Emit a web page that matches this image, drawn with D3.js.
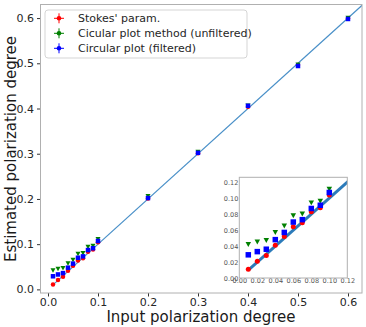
<!DOCTYPE html>
<html>
<head>
<meta charset="utf-8">
<script src="https://cdn.jsdelivr.net/npm/d3@7"></script>
<style>
  body { margin: 0; background: white; }
  text { font-family: "DejaVu Sans", sans-serif; }
</style>
</head>
<body>
<script>
// data
let inputDegree = [0.01, 0.02, 0.03, 0.04, 0.05, 0.06, 0.07, 0.08, 0.09, 0.10, 0.2, 0.3, 0.4, 0.5, 0.6]
let stokesValues = [0.011, 0.021, 0.028, 0.041, 0.052, 0.064, 0.069, 0.083, 0.088, 0.104, 0.201, 0.301, 0.404, 0.496, 0.599]
let unfilteredValues = [0.042, 0.045, 0.047, 0.057, 0.065, 0.078, 0.080, 0.094, 0.096, 0.111, 0.206, 0.304, 0.406, 0.497, 0.600]
let filteredValues = [0.029, 0.033, 0.036, 0.048, 0.057, 0.070, 0.073, 0.087, 0.091, 0.107, 0.202, 0.302, 0.406, 0.494, 0.598]
let refX = [0.01, 0.7]
let refY = [0.01, 0.7]
let mainTicks = [0.0, 0.1, 0.2, 0.3, 0.4, 0.5, 0.6]
let insetTicks = [0.00, 0.02, 0.04, 0.06, 0.08, 0.10, 0.12]
let seriesNames = ["Stokes' param.", "Cicular plot method (unfiltered)", "Circular plot (filtered)"]
let seriesColors = ['#ff0000', '#008000', '#0000ff']
let seriesShapes = ['circle', 'triangle', 'square']

let series = [stokesValues, unfilteredValues, filteredValues]

let svg = d3.select("body").append("svg")
            .attr("width", 366)
            .attr("height", 327)

svg.append('rect').attr('width', '100%').attr('height', '100%').attr('fill', 'white')

let defs = svg.append('defs')

function drawMarker(g, shape, x, y, size, color) {
    if (shape === 'circle') {
        g.append('circle').attr('cx', x).attr('cy', y).attr('r', size / 2).attr('fill', color)
    } else if (shape === 'square') {
        g.append('rect').attr('x', x - size / 2).attr('y', y - size / 2)
         .attr('width', size).attr('height', size).attr('fill', color)
    } else {
        let h = size * 0.9
        g.append('path')
         .attr('d', `M${x - size / 2},${y - h / 2}L${x + size / 2},${y - h / 2}L${x},${y + h / 2}Z`)
         .attr('fill', color)
    }
}

function drawPanel({ left, right, top, bottom, xDomain, yDomain, ticks, fmt, fontSize, tickColor, lineWidth, lineColor, markerSize, tickLen, id }) {
    let x = d3.scaleLinear().domain(xDomain).range([left, right])
    let y = d3.scaleLinear().domain(yDomain).range([bottom, top])

    defs.append('clipPath').attr('id', id)
        .append('rect').attr('x', left).attr('y', top)
        .attr('width', right - left).attr('height', bottom - top)

    let group = svg.append('g')
    group.append('rect')
         .attr('x', left).attr('y', top)
         .attr('width', right - left).attr('height', bottom - top)
         .attr('fill', 'white')

    let plot = group.append('g').attr('clip-path', `url(#${id})`)

    plot.append('path')
        .datum(refX.map((v, i) => [v, refY[i]]))
        .attr('d', d3.line().x(d => x(d[0])).y(d => y(d[1])))
        .attr('fill', 'none')
        .attr('stroke', lineColor)
        .attr('stroke-width', lineWidth)

    series.forEach((vals, s) => {
        let g = plot.append('g')
        vals.forEach((v, i) => {
            if (inputDegree[i] <= xDomain[1])
                drawMarker(g, seriesShapes[s], x(inputDegree[i]), y(v), markerSize[s], seriesColors[s])
        })
    })

    let xAxis = group.append('g')
                     .attr('transform', `translate(0,${bottom})`)
                     .call(d3.axisBottom(x).tickValues(ticks).tickFormat(fmt).tickSizeOuter(0).tickSize(tickLen).tickPadding(tickLen ? 2 : 0))
    let yAxis = group.append('g')
                     .attr('transform', `translate(${left},0)`)
                     .call(d3.axisLeft(y).tickValues(ticks).tickFormat(fmt).tickSizeOuter(0).tickSize(tickLen).tickPadding(tickLen ? 3 : 1))
    for (let ax of [xAxis, yAxis]) {
        ax.select('.domain').remove()
        ax.selectAll('line').attr('stroke', '#333')
        ax.selectAll('text')
          .attr('font-family', '"DejaVu Sans", sans-serif')
          .attr('font-size', fontSize)
          .attr('fill', tickColor)
    }

    group.append('rect')
         .attr('x', left).attr('y', top)
         .attr('width', right - left).attr('height', bottom - top)
         .attr('fill', 'none')
         .attr('stroke', '#b0b0b0')
         .attr('stroke-width', 1)
    return { x, y }
}

// main axes
drawPanel({
    left: 40.5, right: 362, top: 4.5, bottom: 293,
    xDomain: [-0.015, 0.628], yDomain: [-0.008, 0.630],
    ticks: mainTicks, fmt: d3.format('.1f'), fontSize: '11px', tickColor: '#262626',
    lineWidth: 1.2, lineColor: '#4a90c8', markerSize: [4.5, 5, 4.5], tickLen: 3.5, id: 'clipMain'
})

// axis titles
svg.append('text')
   .attr('x', 201).attr('y', 322)
   .attr('text-anchor', 'middle')
   .attr('font-size', '15px')
   .attr('fill', '#1a1a1a')
   .text('Input polarization degree')

svg.append('text')
   .attr('transform', 'translate(16,149) rotate(-90)')
   .attr('text-anchor', 'middle')
   .attr('font-size', '15px')
   .attr('fill', '#1a1a1a')
   .text('Estimated polarization degree')

// legend
let legend = svg.append('g')
legend.append('rect')
      .attr('x', 45).attr('y', 10)
      .attr('width', 202).attr('height', 48)
      .attr('rx', 3)
      .attr('fill', 'white')
      .attr('fill-opacity', 0.85)
      .attr('stroke', '#d5d5d5')
seriesNames.forEach((name, i) => {
    let ly = 18.3 + i * 15
    legend.append('line').attr('x1', 59).attr('x2', 59).attr('y1', ly - 5).attr('y2', ly + 5)
          .attr('stroke', seriesColors[i]).attr('stroke-width', 1)
    legend.append('line').attr('x1', 54).attr('x2', 64).attr('y1', ly).attr('y2', ly)
          .attr('stroke', seriesColors[i]).attr('stroke-width', 1)
    legend.append('circle').attr('cx', 59).attr('cy', ly).attr('r', 2.3).attr('fill', seriesColors[i])
    legend.append('text')
          .attr('x', 78).attr('y', ly + 4)
          .attr('font-size', '11px')
          .attr('fill', '#262626')
          .text(name)
})

// inset axes
drawPanel({
    left: 239.3, right: 347.3, top: 177.3, bottom: 278,
    xDomain: [0, 0.12], yDomain: [0, 0.126],
    ticks: insetTicks, fmt: d3.format('.2f'), fontSize: '6.5px', tickColor: '#555',
    lineWidth: 3, lineColor: '#2b7bba', markerSize: [5, 5.5, 5.5], tickLen: 0, id: 'clipInset'
})
</script>
</body>
</html>
